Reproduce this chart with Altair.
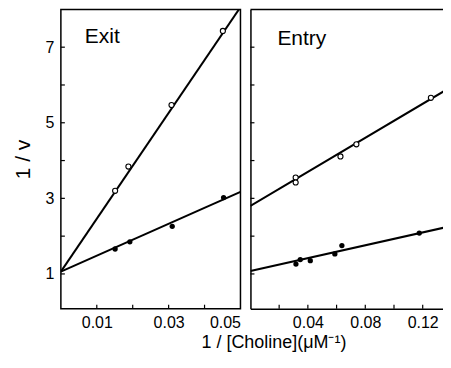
import altair as alt
import pandas as pd

# ---- data ----
panel_names = ["Exit", "Entry"]

y_ticks = [1, 2, 3, 4, 5, 6, 7]
y_labels = [1, 3, 5, 7]
exit_ticks = [0.01, 0.02, 0.03, 0.04]
exit_labels = [0.01, 0.03, 0.05]
entry_ticks = [0.02, 0.04, 0.06, 0.08, 0.10, 0.12]
entry_labels = [0.04, 0.08, 0.12]

exit_open_x = [0.0151, 0.0188, 0.0308, 0.0451]
exit_open_y = [3.20, 3.84, 5.47, 7.43]
exit_filled_x = [0.0151, 0.0192, 0.0310, 0.0453]
exit_filled_y = [1.66, 1.85, 2.26, 3.02]
exit_open_line_x = [0.0, 0.05]
exit_open_line_y = [1.06, 8.06]
exit_filled_line_x = [0.0, 0.05]
exit_filled_line_y = [1.06, 3.17]

entry_open_x = [0.0315, 0.0315, 0.0627, 0.0738, 0.1257]
entry_open_y = [3.55, 3.42, 4.11, 4.43, 5.66]
entry_filled_x = [0.0317, 0.0347, 0.0417, 0.0588, 0.0637, 0.1176]
entry_filled_y = [1.26, 1.38, 1.35, 1.53, 1.75, 2.08]
entry_open_line_x = [0.0, 0.139]
entry_open_line_y = [2.80, 5.93]
entry_filled_line_x = [0.0, 0.139]
entry_filled_line_y = [1.08, 2.26]

NUM_FONT = "Liberation Sans Narrow, Arial Narrow, Liberation Sans, Arial, sans-serif"
TXT_FONT = "Liberation Sans, Arial, Helvetica, sans-serif"
H = 300
Y_DOMAIN = [0.08, 8.0]


def panel(name, xdom, width, xlabels, xticks, ox, oy, fx, fy, olx, oly, flx, fly,
          first, label_pos):
    xs = alt.Scale(domain=xdom, nice=False, zero=False)
    ys = alt.Scale(domain=Y_DOMAIN, nice=False, zero=False)

    xaxis = alt.Axis(values=xlabels, format=".2f", title=None, tickSize=0,
                     labelPadding=6, grid=False, domain=not first,
                     domainColor="black", domainWidth=1.5,
                     labelFont=NUM_FONT, labelFontSize=16, labelColor="black")
    if first:
        yaxis = alt.Axis(values=y_labels, format="d", title="1 / v", tickSize=0,
                         labelPadding=7, grid=False, domain=False,
                         labelFont=NUM_FONT, labelFontSize=16, labelColor="black",
                         titleFontSize=21, titleFont=TXT_FONT,
                         titleFontWeight="normal", titlePadding=12,
                         titleColor="black")
    else:
        yaxis = alt.Axis(values=y_labels, labels=False, ticks=False, title=None,
                         grid=False, domain=True, domainColor="black",
                         domainWidth=1.5)

    def X(f):
        return alt.X(f, scale=xs, axis=xaxis)

    def Y(f):
        return alt.Y(f, scale=ys, axis=yaxis)

    df_open = pd.DataFrame({"x": ox, "y": oy})
    df_fill = pd.DataFrame({"x": fx, "y": fy})
    df_ol = pd.DataFrame({"x": olx, "y": oly})
    df_fl = pd.DataFrame({"x": flx, "y": fly})

    line1 = alt.Chart(df_ol).mark_line(color="black", strokeWidth=2, clip=True).encode(
        x=X("x:Q"), y=Y("y:Q"))
    line2 = alt.Chart(df_fl).mark_line(color="black", strokeWidth=2, clip=True).encode(
        x=X("x:Q"), y=Y("y:Q"))
    pts_open = alt.Chart(df_open).mark_point(
        shape="circle", filled=True, fill="white", stroke="black",
        strokeWidth=1.1, size=26, opacity=1
    ).encode(x=X("x:Q"), y=Y("y:Q"))
    pts_fill = alt.Chart(df_fill).mark_circle(color="black", size=28, opacity=1).encode(
        x=X("x:Q"), y=Y("y:Q"))
    yt = alt.Chart(pd.DataFrame({"y": y_ticks})).mark_rule(color="black", strokeWidth=1.2).encode(
        y=Y("y:Q"), x=alt.value(0), x2=alt.value(4))
    xt = alt.Chart(pd.DataFrame({"x": xticks})).mark_rule(color="black", strokeWidth=1.2).encode(
        x=X("x:Q"), y=alt.value(H), y2=alt.value(H - 4))
    lab = alt.Chart(pd.DataFrame({"label": [name]})).mark_text(
        font=TXT_FONT, fontSize=21, align="left", baseline="middle", color="black"
    ).encode(text="label:N", x=alt.value(label_pos[0]), y=alt.value(label_pos[1]))
    layers = [line1, line2, pts_open, pts_fill, yt, xt, lab]
    if not first:
        top = alt.Chart(pd.DataFrame({"label": [name]})).mark_rule(
            color="black", strokeWidth=1.5
        ).encode(y=alt.value(0), x=alt.value(0), x2=alt.value(width))
        layers.append(top)
    ch = alt.layer(*layers).properties(width=width, height=H)
    if first:
        ch = ch.properties(view=alt.ViewBackground(stroke="black", strokeWidth=1.5))
    else:
        ch = ch.properties(view=alt.ViewBackground(stroke="white", strokeWidth=0,
                                                   strokeOpacity=0))
    return ch


left = panel(panel_names[0], [0.0, 0.05], 180, exit_labels, exit_ticks,
             exit_open_x, exit_open_y, exit_filled_x, exit_filled_y,
             exit_open_line_x, exit_open_line_y, exit_filled_line_x, exit_filled_line_y,
             True, (24, 28))
right = panel(panel_names[1], [0.0, 0.139], 200, entry_labels, entry_ticks,
              entry_open_x, entry_open_y, entry_filled_x, entry_filled_y,
              entry_open_line_x, entry_open_line_y, entry_filled_line_x, entry_filled_line_y,
              False, (27, 30))

chart = alt.hconcat(left, right, spacing=10, bounds="flush").properties(
    title=alt.TitleParams(
        text="1 / [Choline](\u03bcM\u207b\u00b9)", orient="bottom", anchor="middle",
        dx=43, fontSize=18, font=TXT_FONT, fontWeight="normal", color="black", offset=3
    ),
    padding={"left": 3, "top": 0, "right": -8, "bottom": 0},
    background="white",
)

chart.save("out.html", embed_options={"renderer": "svg", "actions": False})
